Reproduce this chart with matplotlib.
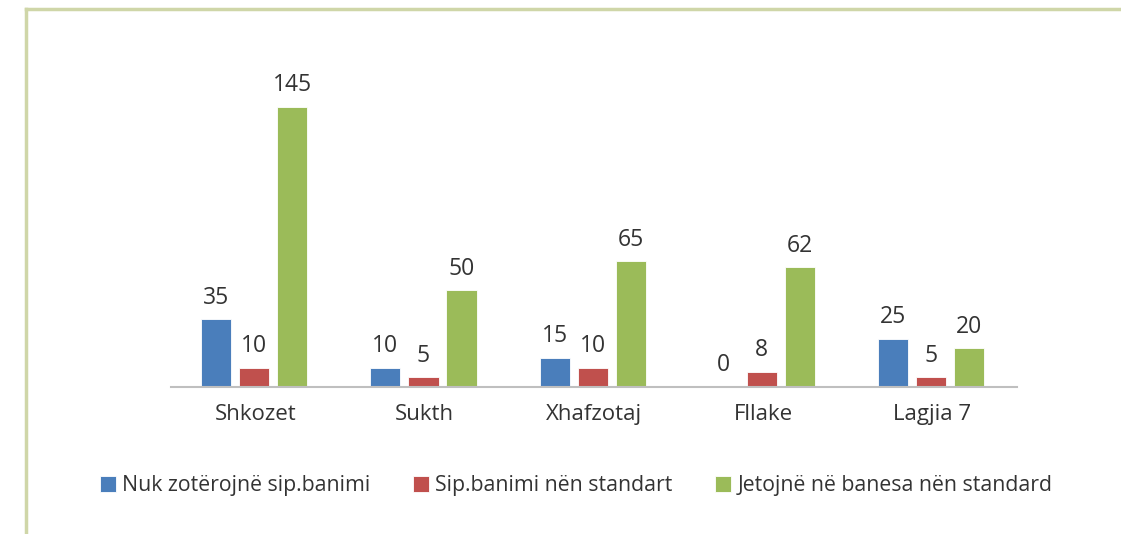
import matplotlib.pyplot as plt
import numpy as np
from matplotlib.lines import Line2D

plt.rcParams['font.family'] = ['Open Sans', 'DejaVu Sans']

categories = ["Shkozet", "Sukth", "Xhafzotaj", "Fllake", "Lagjia 7"]
series_names = ["Nuk zotërojnë sip.banimi", "Sip.banimi nën standart",
                "Jetojnë në banesa nën standard"]
nuk_zoterojne = [35, 10, 15, 0, 25]
nen_standart = [10, 5, 10, 8, 5]
jetojne = [145, 50, 65, 62, 20]
colors = ["#4a7ebb", "#c0504d", "#9bbb59"]

W, H = 1121, 534
fig = plt.figure(figsize=(W / 100, H / 100), dpi=100)

# light green frame on left and top
frame_col = "#cfd6a8"
fig.add_artist(Line2D([26 / W, 26 / W], [0, 1 - 9 / H], transform=fig.transFigure,
                      color=frame_col, lw=2.5))
fig.add_artist(Line2D([26 / W, 1], [1 - 9 / H, 1 - 9 / H], transform=fig.transFigure,
                      color=frame_col, lw=2.5))

ax_left, ax_right, ax_top, ax_bottom = 171, 1017, 50, 387
ax = fig.add_axes([ax_left / W, 1 - ax_bottom / H, (ax_right - ax_left) / W,
                   (ax_bottom - ax_top) / H])

x = np.arange(len(categories))
width = 0.178
step = 0.225
all_series = [nuk_zoterojne, nen_standart, jetojne]
for i, (vals, name, c) in enumerate(zip(all_series, series_names, colors)):
    pos = x + (i - 1) * step - 0.008
    ax.bar(pos, vals, width, color=c, label=name, edgecolor="white", linewidth=0.6)
    for p, v in zip(pos, vals):
        ax.annotate(str(v), (p, v), xytext=(0, 7), textcoords="offset points",
                    ha="center", va="bottom", fontsize=16.5, color="#333333")

ax.set_xlim(-0.5, len(categories) - 0.5)
ax.set_ylim(0, 174.5)
ax.set_xticks(x)
ax.set_xticklabels(categories, fontsize=16, color="#333333")
ax.tick_params(axis="x", length=0, pad=12)
ax.set_yticks([])
for s in ["top", "left", "right"]:
    ax.spines[s].set_visible(False)
ax.spines["bottom"].set_color("#bfbfbf")
ax.spines["bottom"].set_linewidth(1.5)

leg = fig.legend(loc="center", bbox_to_anchor=(576 / W, 1 - 486 / H), ncol=3,
                 frameon=False, fontsize=15.3, handlelength=0.75, handleheight=0.75,
                 handletextpad=0.3, columnspacing=2.0)
for t in leg.get_texts():
    t.set_color("#333333")

fig.savefig("out.png", dpi=100)
